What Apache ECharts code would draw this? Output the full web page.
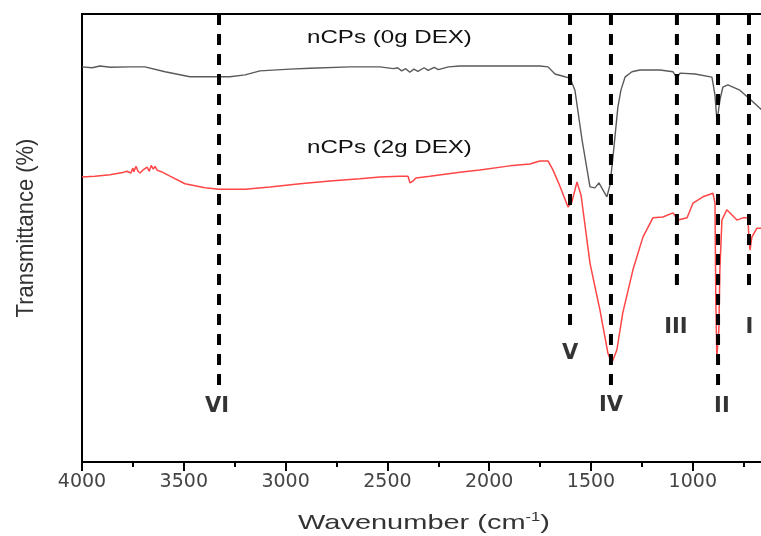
<!DOCTYPE html>
<html>
<head>
<meta charset="utf-8">
<script src="https://cdn.jsdelivr.net/npm/echarts@6/dist/echarts.min.js"></script>
<style>
html,body{margin:0;padding:0;background:#fff;}
#chart{width:761px;height:536px;}
</style>
</head>
<body>
<div id="chart"></div>
<script>
// Wavenumber (cm-1) and transmittance (arbitrary %)
var grayWn = [4000,3950,3912,3860,3764,3691,3592,3470,3371,3273,3199,3126,2979,2880,2684,2537,2470,2450,2430,2410,2390,2370,2350,2320,2300,2270,2250,2200,2144,1947,1751,1711,1677,1628,1603,1579,1544,1505,1481,1461,1441,1422,1407,1392,1368,1353,1333,1299,1260,1161,1097,1078,1063,989,906,891,881,872,867,852,828,769,705,662];
var grayT  = [88.2,88.0,88.4,88.1,88.2,88.2,87.1,86.0,86.0,86.0,86.4,87.3,87.7,87.9,88.2,88.2,87.8,88.0,87.3,87.8,87.0,87.7,87.2,88.0,87.4,88.1,87.6,88.2,88.4,88.4,88.4,88.2,86.6,86.0,85.7,83.0,71.9,61.4,61.2,62.3,60.7,59.2,61.8,68.1,79.2,83.0,85.9,87.1,87.5,87.5,87.1,85.7,86.8,86.6,85.9,81.9,75.9,75.9,80.8,83.7,84.2,83.0,80.4,78.6];

var redWn = [4000,3936,3862,3800,3780,3760,3750,3745,3735,3725,3715,3700,3680,3670,3660,3650,3641,3630,3610,3568,3494,3396,3327,3199,3077,2929,2782,2635,2537,2438,2399,2389,2375,2360,2291,2144,2046,1899,1800,1751,1711,1687,1653,1613,1594,1569,1549,1505,1456,1417,1398,1373,1344,1294,1245,1196,1147,1097,1073,1028,999,950,901,891,887,882,872,867,857,833,783,754,729,724,719,710,685,662];
var redT  = [63.6,63.8,64.1,64.6,64.9,64.5,65.6,64.8,66.0,64.9,64.5,65.2,65.8,64.9,66.2,65.4,66.0,65.1,64.8,63.8,62.1,61.2,60.9,60.9,61.4,62.1,62.7,63.2,63.6,63.8,63.8,62.3,62.7,63.4,63.8,64.7,65.2,66.1,66.5,67.2,67.2,65.2,61.6,56.9,58.0,62.5,59.6,44.4,33.9,24.3,22.1,25.0,33.3,42.9,50.2,54.5,54.7,55.6,54.0,54.5,57.8,59.2,60.0,57.8,36.2,23.4,29.5,42.9,54.0,56.3,54.0,54.5,54.5,49.6,47.3,50.2,52.2,52.2];

// Marker (dashed) lines
var markerNames  = ['VI','V','IV','III','II','I'];
var markerWn     = [3327,1603,1402,1078,876,724];
var markerTop    = [100,100,100,100,100,100];
var markerBottom = [17.2,30.4,17.2,39.1,16.7,39.1];
var labelWn      = [3337,1603,1402,1083,857,722];
var labelT       = [12.3,24.1,12.7,30.1,12.3,30.1];

var xTicks = {min:500, max:4000, interval:500};
var yRange = {min:0, max:100};

function pairs(xs, ys){ return xs.map(function(x,i){ return [x, ys[i]]; }); }

var series = [
  {type:'line', name:'nCPs (0g DEX)', data:pairs(grayWn, grayT), showSymbol:false, symbol:'none',
   lineStyle:{color:'#5a5a5a', width:1.4}, z:2},
  {type:'line', name:'nCPs (2g DEX)', data:pairs(redWn, redT), showSymbol:false, symbol:'none',
   lineStyle:{color:'#ff4545', width:1.5}, z:2}
];
markerWn.forEach(function(w,i){
  series.push({type:'line', data:[[w, markerTop[i]],[w, markerBottom[i]]], symbol:'none', showSymbol:false,
    lineStyle:{color:'#000', width:4, type:[11,9]}, z:3, clip:false});
});
series.push({type:'scatter', symbolSize:0, z:4,
  data: markerNames.map(function(n,i){ return {name:n, value:[labelWn[i], labelT[i]]}; }),
  label:{show:true, position:'inside', formatter:'{b}', color:'#000', fontFamily:'DejaVu Sans', fontWeight:'bold', fontSize:21}
});

var chart = echarts.init(document.getElementById('chart'), null, {renderer:'canvas'});
chart.setOption({
  animation:false,
  backgroundColor:'#fff',
  grid:{left:82, top:14, width:712.6, height:448, containLabel:false, outerBoundsMode:'none',
        show:true, borderColor:'#000', borderWidth:2, backgroundColor:'transparent'},
  xAxis:{type:'value', inverse:true, min:xTicks.min, max:xTicks.max, interval:xTicks.interval,
    axisLine:{show:true, lineStyle:{color:'#000', width:2}},
    axisTick:{show:true, length:9, lineStyle:{color:'#000', width:2}},
    minorTick:{show:true, splitNumber:2, length:5, lineStyle:{color:'#000', width:2}},
    splitLine:{show:false}, minorSplitLine:{show:false},
    axisLabel:{color:'#444', fontFamily:'DejaVu Sans', fontSize:19, margin:11,
      formatter:function(v){ return String(v); }}
  },
  yAxis:{type:'value', min:yRange.min, max:yRange.max, axisLine:{show:false}, axisTick:{show:false},
    axisLabel:{show:false}, splitLine:{show:false}},
  graphic:[
    {type:'text', x:307, y:38, scaleX:1.34,
     style:{text:'nCPs (0g DEX)', font:'18px "Liberation Sans", Arial, sans-serif', fill:'#111', verticalAlign:'middle', align:'left'}},
    {type:'text', x:307, y:148, scaleX:1.34,
     style:{text:'nCPs (2g DEX)', font:'18px "Liberation Sans", Arial, sans-serif', fill:'#111', verticalAlign:'middle', align:'left'}},
    {type:'text', x:298, y:523, scaleX:1.38,
     style:{text:'{a|Wavenumber (cm}{s|-1}{a|)}', verticalAlign:'middle', align:'left',
       rich:{a:{fontFamily:'Liberation Sans', fontSize:21, fill:'#333', color:'#333'},
             s:{fontFamily:'Liberation Sans', fontSize:12, fill:'#333', color:'#333', verticalAlign:'top', padding:[0,0,10,0]}}}},
    {type:'text', x:26, y:228, rotation:Math.PI/2, scaleY:1.12,
     style:{text:'Transmittance (%)', font:'22px "Liberation Sans", Arial, sans-serif', fill:'#333', verticalAlign:'middle', align:'center'}}
  ],
  series:series
});
</script>
</body>
</html>
